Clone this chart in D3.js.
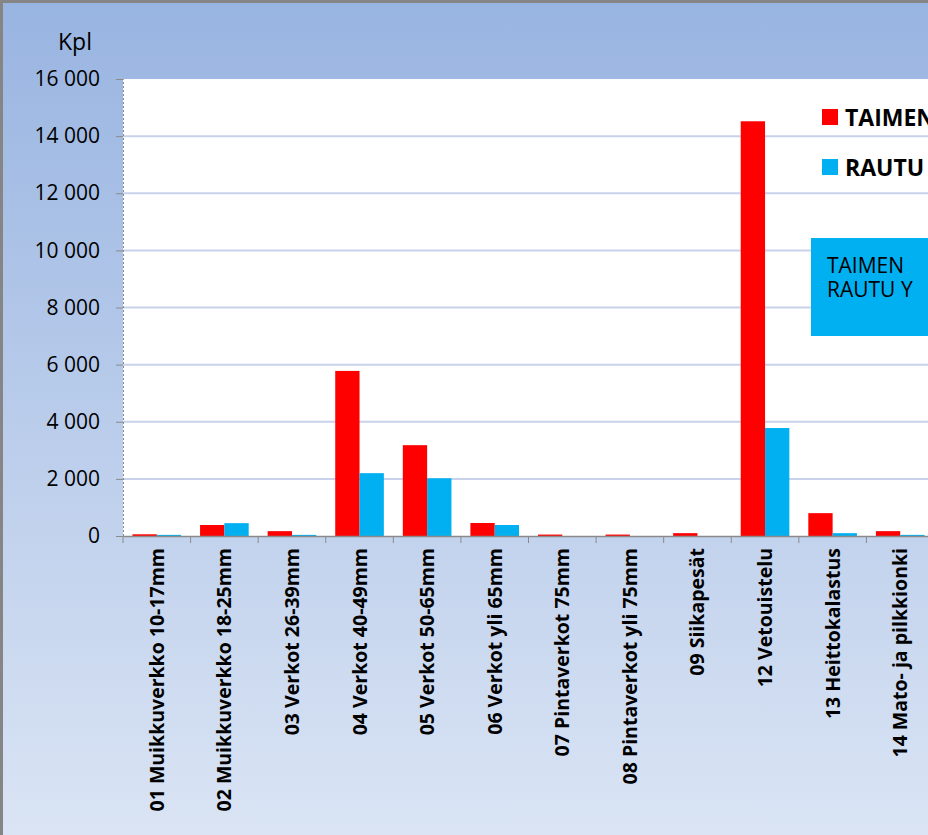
<!DOCTYPE html>
<html>
<head>
<meta charset="utf-8">
<script src="https://cdn.jsdelivr.net/npm/d3@7"></script>
<style>
html,body{margin:0;padding:0;background:#fff;overflow:hidden}
svg{display:block}
</style>
</head>
<body>
<div id="chart"></div>
<script>
const categories = ["01 Muikkuverkko 10-17mm","02 Muikkuverkko 18-25mm","03 Verkot 26-39mm","04 Verkot 40-49mm","05 Verkot 50-65mm","06 Verkot yli 65mm","07 Pintaverkot 75mm","08 Pintaverkot yli 75mm","09 Siikapesät","12 Vetouistelu","13 Heittokalastus","14 Mato- ja pilkkionki"];
const seriesNames = ["TAIMEN","RAUTU"];
const taimen = [60,385,170,5780,3180,455,50,50,100,14520,800,170];
const rautu  = [40,450,40,2200,2020,385,0,0,0,3780,100,40];
const yTicks = [0,2000,4000,6000,8000,10000,12000,14000,16000];
const boxLines = ["TAIMEN","RAUTU Y"];

const W = 928, H = 835;
const colors = ["#FF0000","#00B0F0"];
const plot = {left:123, top:79, bottom:536, right:934};

const svg = d3.select("#chart").append("svg").attr("width",W).attr("height",H);
const defs = svg.append("defs");
const grad = defs.append("linearGradient").attr("id","bg").attr("x1",0).attr("y1",0).attr("x2",0).attr("y2",1);
grad.append("stop").attr("offset","0%").attr("stop-color","#98B4E1");
grad.append("stop").attr("offset","100%").attr("stop-color","#DAE4F4");

svg.append("rect").attr("width",W).attr("height",H).attr("fill","url(#bg)");
// border (left and top visible)
svg.append("rect").attr("x",0).attr("y",0).attr("width",W+20).attr("height",H+20)
  .attr("fill","none").attr("stroke","#858585").attr("stroke-width",6);

svg.append("rect").attr("x",plot.left).attr("y",plot.top)
  .attr("width",plot.right-plot.left).attr("height",plot.bottom-plot.top).attr("fill","#fff");

const x = d3.scaleBand().domain(categories).range([plot.left,plot.right]).paddingInner(0).paddingOuter(0);
const y = d3.scaleLinear().domain([0,16000]).range([plot.bottom,plot.top]);
const xs = d3.scaleBand().domain(seriesNames).range([0,x.bandwidth()]).paddingInner(0).paddingOuter(0.39);

// gridlines
svg.append("g").selectAll("line").data(yTicks.filter(d=>d>0 && d<16000)).join("line")
  .attr("x1",plot.left).attr("x2",plot.right).attr("y1",d=>y(d)).attr("y2",d=>y(d))
  .attr("stroke","#C8D2EA").attr("stroke-width",2);

// bars
const data = categories.map((c,i)=>({c, vals:[taimen[i],rautu[i]]}));
const g = svg.append("g").selectAll("g").data(data).join("g").attr("transform",d=>`translate(${x(d.c)},0)`);
g.selectAll("rect").data(d=>d.vals.map((v,j)=>({v,s:seriesNames[j],j}))).join("rect")
  .attr("x",d=>xs(d.s)).attr("width",xs.bandwidth())
  .attr("y",d=>y(d.v)).attr("height",d=>y(0)-y(d.v))
  .attr("fill",d=>colors[d.j]);

// y axis
const yAxis = d3.axisLeft(y).tickValues(yTicks).tickSize(7).tickPadding(16)
  .tickFormat(d=>d3.format(",")(d).replace(/,/g," "));
const ya = svg.append("g").attr("transform",`translate(${plot.left},0)`).call(yAxis);
ya.select(".domain").attr("stroke","#8A8A8A").attr("stroke-dasharray","2,2");
ya.selectAll(".tick line").attr("stroke","#8A8A8A");
ya.selectAll(".tick text").attr("font-family","'Open Sans',sans-serif").attr("font-size",21).attr("fill","#000");

// x axis
const xAxis = d3.axisBottom(x).tickSize(0).tickFormat("");
const xa = svg.append("g").attr("transform",`translate(0,${plot.bottom})`).call(xAxis);
xa.select(".domain").attr("stroke","#8A8A8A").attr("stroke-width",1.5);
// category boundary ticks
svg.append("g").selectAll("line").data(categories).join("line")
  .attr("x1",d=>x(d)).attr("x2",d=>x(d)).attr("y1",plot.bottom).attr("y2",plot.bottom+7)
  .attr("stroke","#8A8A8A");
// labels
svg.append("g").selectAll("text").data(categories).join("text")
  .attr("transform",d=>`translate(${x(d)+x.bandwidth()/2+7},548) rotate(-90)`)
  .attr("text-anchor","end")
  .attr("font-family","'Open Sans',sans-serif").attr("font-weight","bold").attr("font-size",19.5)
  .attr("fill","#000").text(d=>d);

// y title
svg.append("text").attr("x",58).attr("y",50).attr("font-family","'Open Sans',sans-serif")
  .attr("font-size",23).attr("fill","#000").text("Kpl");

// legend
const leg = svg.append("g");
seriesNames.forEach((s,i)=>{
  const yy = 109 + i*50;
  leg.append("rect").attr("x",822).attr("y",yy).attr("width",16).attr("height",16).attr("fill",colors[i]);
  leg.append("text").attr("x",845).attr("y",yy+17).attr("font-family","'Open Sans',sans-serif")
    .attr("font-weight","bold").attr("font-size",23).attr("fill","#000").text(s);
});

// text box (one multi-line text)
svg.append("rect").attr("x",811).attr("y",238).attr("width",200).attr("height",98).attr("fill","#00B0F0");
const bt = svg.append("text").attr("x",827).attr("y",273)
  .attr("font-family","'Open Sans',sans-serif").attr("font-size",21).attr("fill","#000");
bt.selectAll("tspan").data(boxLines).join("tspan")
  .attr("x",827).attr("dy",(d,i)=>i===0?0:24).text(d=>d);
</script>
</body>
</html>
